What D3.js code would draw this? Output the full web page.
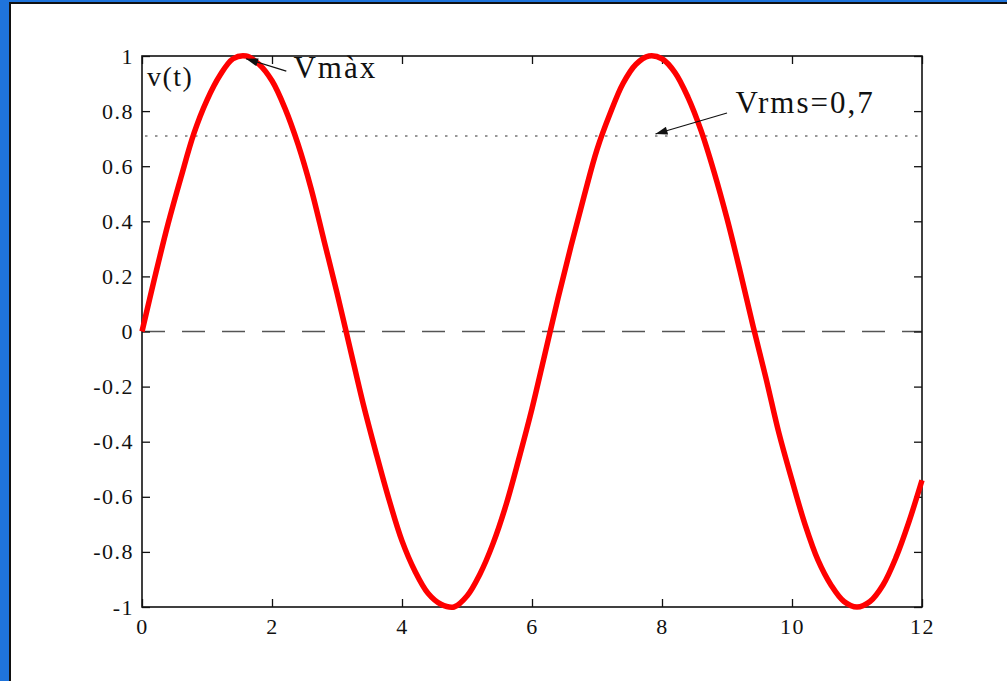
<!DOCTYPE html>
<html>
<head>
<meta charset="utf-8">
<script src="https://cdn.jsdelivr.net/npm/d3@7"></script>
<style>
  html, body { margin: 0; padding: 0; background: #fff; }
  svg { display: block; }
  .tick-label { font-family: "Liberation Serif", "Times New Roman", Times, serif; font-size: 22px; fill: #111; letter-spacing: 1.5px; }
  .note { font-family: "Liberation Serif", "Times New Roman", Times, serif; font-size: 31px; fill: #111; letter-spacing: 2px; }
</style>
</head>
<body>
<div id="chart"></div>
<script>
// samples of v(t), every 0.2 s
const tValues = [0, 0.2, 0.4, 0.6, 0.8, 1.0, 1.2, 1.4, 1.6, 1.8, 2.0, 2.2, 2.4, 2.6, 2.8, 3.0,
  3.2, 3.4, 3.6, 3.8, 4.0, 4.2, 4.4, 4.6, 4.8, 5.0, 5.2, 5.4, 5.6, 5.8, 6.0, 6.2, 6.4, 6.6,
  6.8, 7.0, 7.2, 7.4, 7.6, 7.8, 8.0, 8.2, 8.4, 8.6, 8.8, 9.0, 9.2, 9.4, 9.6, 9.8, 10.0, 10.2,
  10.4, 10.6, 10.8, 11.0, 11.2, 11.4, 11.6, 11.8, 12.0];
const vValues = [0, 0.20, 0.39, 0.56, 0.72, 0.84, 0.93, 0.99, 1.00, 0.97, 0.91, 0.81, 0.68, 0.52, 0.33, 0.14,
  -0.06, -0.26, -0.44, -0.61, -0.76, -0.87, -0.95, -0.99, -1.00, -0.96, -0.88, -0.77, -0.63, -0.46, -0.28, -0.08, 0.12, 0.31,
  0.49, 0.66, 0.79, 0.90, 0.97, 1.00, 0.99, 0.94, 0.85, 0.73, 0.58, 0.41, 0.22, 0.02, -0.17, -0.37, -0.54, -0.70,
  -0.83, -0.92, -0.98, -1.00, -0.98, -0.92, -0.82, -0.69, -0.54];

const xTicks = [0, 2, 4, 6, 8, 10, 12];
const yTicks = [-1, -0.8, -0.6, -0.4, -0.2, 0, 0.2, 0.4, 0.6, 0.8, 1];

const vrmsLevel = 0.71;
const zeroLevel = 0;

// annotations: arrow tip, arrow tail, text anchor (data units)
const notes = [
  { text: "Vmàx", tip: [1.6, 0.99], tail: [2.22, 0.945], at: [2.33, 0.92] },
  { text: "Vrms=0,7", tip: [7.9, 0.717], tail: [9.0, 0.793], at: [9.13, 0.793] }
];

const width = 1007, height = 681;
const margin = { left: 142, right: 85, top: 56, bottom: 74 };

const svg = d3.select("#chart").append("svg")
  .attr("width", width)
  .attr("height", height);

// slide frame
svg.append("rect").attr("width", width).attr("height", height).attr("fill", "#1f74dc");
svg.append("rect").attr("x", 10).attr("y", 3).attr("width", width).attr("height", height)
  .attr("fill", "#fff").attr("stroke", "#111").attr("stroke-width", 2);

const x = d3.scaleLinear().domain([0, 12]).range([margin.left, width - margin.right]);
const y = d3.scaleLinear().domain([-1, 1]).range([height - margin.bottom, margin.top]);

const x0 = x.range()[0], x1 = x.range()[1];
const y0 = y.range()[1], y1 = y.range()[0];

// reference lines
svg.append("line")
  .attr("x1", x0).attr("x2", x1).attr("y1", y(zeroLevel)).attr("y2", y(zeroLevel))
  .attr("stroke", "#555").attr("stroke-width", 1.5).attr("stroke-dasharray", "23,17");

svg.append("line")
  .attr("x1", x0 + 3).attr("x2", x1).attr("y1", y(vrmsLevel)).attr("y2", y(vrmsLevel))
  .attr("stroke", "#777").attr("stroke-width", 1.5).attr("stroke-dasharray", "2.5,7.5");

// axes, ticks inward on all four sides
const tickLen = 8;
const fmtY = d => String(+d.toFixed(1));
svg.append("g").attr("transform", `translate(0,${y1})`)
  .call(d3.axisBottom(x).tickValues(xTicks).tickSizeInner(-tickLen).tickSizeOuter(0).tickPadding(11).tickFormat(d => String(d)))
  .call(g => g.select(".domain").remove());
svg.append("g").attr("transform", `translate(0,${y0})`)
  .call(d3.axisTop(x).tickValues(xTicks).tickSizeInner(-tickLen).tickSizeOuter(0).tickFormat(""))
  .call(g => g.select(".domain").remove());
svg.append("g").attr("transform", `translate(${x0},0)`)
  .call(d3.axisLeft(y).tickValues(yTicks).tickSizeInner(-tickLen).tickSizeOuter(0).tickPadding(8).tickFormat(fmtY))
  .call(g => g.select(".domain").remove());
svg.append("g").attr("transform", `translate(${x1},0)`)
  .call(d3.axisRight(y).tickValues(yTicks).tickSizeInner(-tickLen).tickSizeOuter(0).tickFormat(""))
  .call(g => g.select(".domain").remove());

svg.selectAll("g").attr("font-family", null).attr("font-size", null);
svg.selectAll(".tick line").attr("stroke", "#111").attr("stroke-width", 1.3);
svg.selectAll(".tick text").attr("class", "tick-label");

svg.append("rect")
  .attr("x", x0).attr("y", y0).attr("width", x1 - x0).attr("height", y1 - y0)
  .attr("fill", "none").attr("stroke", "#111").attr("stroke-width", 1.6);

// the curve
const line = d3.line()
  .x((d, i) => x(tValues[i]))
  .y(d => y(d))
  .curve(d3.curveCatmullRom);

svg.append("path")
  .datum(vValues)
  .attr("d", line)
  .attr("fill", "none")
  .attr("stroke", "#f00")
  .attr("stroke-width", 5.5)
  .attr("stroke-linejoin", "round");

// y label
svg.append("text")
  .attr("class", "note")
  .attr("x", x0 + 5).attr("y", y0 + 30)
  .style("font-size", "28px")
  .style("letter-spacing", "1.5px")
  .text("v(t)");

// annotations
svg.append("defs").append("marker")
  .attr("id", "head")
  .attr("viewBox", "0 0 12 8")
  .attr("refX", 12).attr("refY", 4)
  .attr("markerWidth", 13).attr("markerHeight", 8)
  .attr("markerUnits", "userSpaceOnUse")
  .attr("orient", "auto")
  .append("path").attr("d", "M0,0 L12,4 L0,8 Z").attr("fill", "#111");

notes.forEach(n => {
  svg.append("line")
    .attr("x1", x(n.tail[0])).attr("y1", y(n.tail[1]))
    .attr("x2", x(n.tip[0])).attr("y2", y(n.tip[1]))
    .attr("stroke", "#111").attr("stroke-width", 1.2)
    .attr("marker-end", "url(#head)");
  svg.append("text")
    .attr("class", "note")
    .attr("x", x(n.at[0])).attr("y", y(n.at[1]))
    .text(n.text);
});
</script>
</body>
</html>
